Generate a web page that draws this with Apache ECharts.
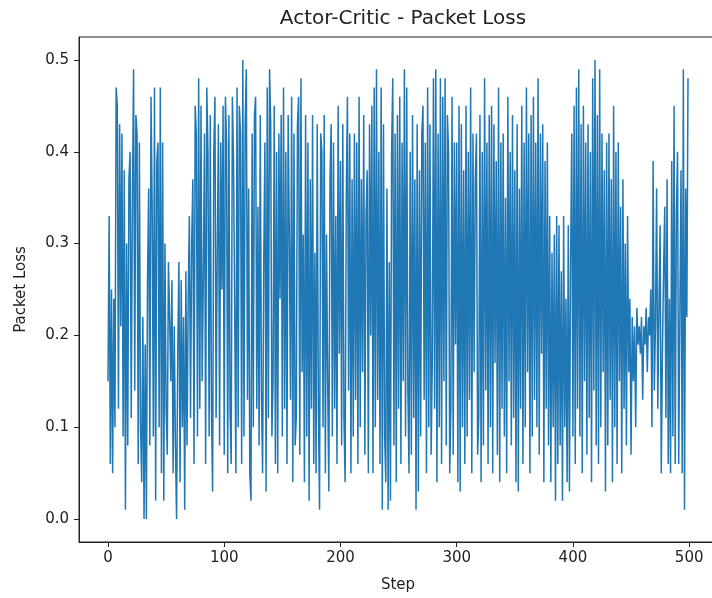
<!DOCTYPE html>
<html>
<head>
<meta charset="utf-8">
<title>Actor-Critic - Packet Loss</title>
<script src="https://cdn.jsdelivr.net/npm/echarts@6/dist/echarts.min.js"></script>
<style>
  html, body { margin: 0; padding: 0; background: #fff; overflow: hidden; }
  #chart { width: 712px; height: 598px; }
</style>
</head>
<body>
<div id="chart"></div>
<script>
// Packet loss recorded at each training step of the actor-critic agent
const packetLoss = [
  0.15,0.33,0.06,0.25,0.05,0.24,0.10,0.47,0.45,0.12,0.43,0.21,0.42,0.09,0.38,0.01,0.30,0.08,0.37,0.40,
  0.11,0.35,0.49,0.14,0.44,0.42,0.06,0.41,0.10,0.04,0.22,0.00,0.19,0.00,0.26,0.36,0.08,0.46,0.34,0.09,
  0.47,0.02,0.39,0.41,0.10,0.47,0.05,0.41,0.02,0.30,0.12,0.07,0.28,0.22,0.15,0.26,0.05,0.21,0.08,0.00,
  0.18,0.28,0.04,0.26,0.10,0.22,0.01,0.27,0.08,0.24,0.33,0.11,0.30,0.37,0.06,0.45,0.42,0.09,0.48,0.12,
  0.45,0.15,0.26,0.42,0.06,0.47,0.40,0.09,0.44,0.12,0.03,0.40,0.46,0.11,0.29,0.43,0.08,0.41,0.25,0.45,
  0.07,0.46,0.41,0.05,0.44,0.12,0.06,0.46,0.39,0.23,0.05,0.47,0.10,0.45,0.42,0.06,0.50,0.09,0.43,0.49,
  0.13,0.36,0.05,0.02,0.42,0.10,0.44,0.46,0.12,0.34,0.08,0.44,0.14,0.05,0.28,0.41,0.03,0.47,0.11,0.49,
  0.43,0.09,0.15,0.45,0.06,0.40,0.05,0.42,0.24,0.44,0.09,0.47,0.12,0.40,0.06,0.44,0.31,0.13,0.46,0.04,
  0.42,0.08,0.11,0.43,0.46,0.07,0.48,0.16,0.31,0.04,0.44,0.09,0.41,0.02,0.37,0.12,0.44,0.06,0.29,0.05,
  0.43,0.12,0.01,0.42,0.40,0.10,0.44,0.05,0.31,0.15,0.03,0.37,0.43,0.09,0.41,0.12,0.33,0.06,0.45,0.18,
  0.39,0.08,0.43,0.11,0.04,0.35,0.46,0.14,0.42,0.05,0.37,0.09,0.42,0.13,0.41,0.06,0.46,0.10,0.37,0.16,
  0.44,0.07,0.33,0.38,0.05,0.43,0.20,0.45,0.05,0.47,0.10,0.49,0.13,0.40,0.06,0.47,0.01,0.43,0.09,0.04,
  0.36,0.01,0.28,0.02,0.40,0.48,0.08,0.42,0.04,0.44,0.12,0.46,0.06,0.41,0.15,0.49,0.09,0.47,0.14,0.05,
  0.40,0.07,0.44,0.11,0.37,0.01,0.43,0.03,0.38,0.09,0.42,0.45,0.13,0.41,0.05,0.47,0.10,0.43,0.07,0.17,
  0.48,0.12,0.49,0.04,0.42,0.10,0.48,0.06,0.46,0.15,0.48,0.08,0.44,0.40,0.05,0.12,0.46,0.07,0.41,0.19,
  0.41,0.04,0.45,0.03,0.43,0.10,0.38,0.06,0.45,0.09,0.40,0.13,0.47,0.05,0.42,0.16,0.37,0.42,0.07,0.11,
  0.44,0.04,0.40,0.08,0.48,0.14,0.41,0.06,0.44,0.10,0.45,0.05,0.43,0.17,0.39,0.07,0.47,0.04,0.41,0.12,
  0.42,0.09,0.35,0.05,0.46,0.15,0.40,0.08,0.44,0.11,0.38,0.04,0.43,0.03,0.36,0.12,0.45,0.06,0.41,0.10,
  0.47,0.16,0.42,0.05,0.44,0.09,0.46,0.13,0.41,0.10,0.48,0.07,0.42,0.18,0.43,0.04,0.39,0.12,0.41,0.08,
  0.33,0.04,0.29,0.10,0.31,0.02,0.33,0.06,0.32,0.08,0.27,0.02,0.33,0.10,0.24,0.04,0.32,0.03,0.28,0.42,
  0.09,0.45,0.06,0.47,0.12,0.49,0.09,0.43,0.05,0.45,0.15,0.41,0.07,0.43,0.11,0.40,0.04,0.48,0.14,0.50,
  0.08,0.44,0.06,0.49,0.10,0.42,0.16,0.38,0.03,0.41,0.08,0.42,0.13,0.37,0.04,0.45,0.10,0.40,0.06,0.41,
  0.15,0.34,0.05,0.37,0.12,0.30,0.08,0.33,0.16,0.24,0.07,0.22,0.15,0.21,0.10,0.23,0.19,0.21,0.18,0.22,
  0.13,0.21,0.19,0.23,0.16,0.22,0.20,0.25,0.10,0.39,0.14,0.21,0.36,0.12,0.23,0.32,0.05,0.18,0.27,0.34,
  0.11,0.37,0.06,0.24,0.05,0.39,0.09,0.45,0.06,0.33,0.40,0.06,0.22,0.38,0.05,0.49,0.01,0.36,0.22,0.48
];

const xTicks = [0, 100, 200, 300, 400, 500];
const yTicks = [0.0, 0.1, 0.2, 0.3, 0.4, 0.5];

const titleText = 'Actor-Critic - Packet Loss';
const xName = 'Step';
const yName = 'Packet Loss';

const seriesData = packetLoss.map((v, i) => [i, v]);
const n = packetLoss.length;
// 5% padding on both ends of the step axis
const xMin = -0.05 * (n - 1);
const xMax = (n - 1) * 1.05;

const font = 'DejaVu Sans';
const ink = '#222';
const chart = echarts.init(document.getElementById('chart'), null, { renderer: 'canvas' });

chart.setOption({
  animation: false,
  backgroundColor: '#ffffff',
  textStyle: { fontFamily: font },
  title: {
    text: titleText,
    left: 398,
    top: 4,
    textAlign: 'center',
    textStyle: { fontFamily: font, fontSize: 20, fontWeight: 'normal', color: ink }
  },
  grid: {
    left: 79,
    right: -5,
    top: 37,
    bottom: 56,
    outerBoundsMode: 'none',
    containLabel: false,
    show: true,
    borderColor: ink,
    borderWidth: 1,
    backgroundColor: 'transparent'
  },
  xAxis: {
    type: 'value',
    min: xMin,
    max: xMax,
    name: xName,
    nameLocation: 'middle',
    nameGap: 36,
    nameTextStyle: { fontFamily: font, fontSize: 15, color: ink },
    axisLine: { show: true, onZero: false, lineStyle: { color: ink, width: 1 } },
    axisTick: { show: true, inside: false, length: 5, customValues: xTicks, lineStyle: { color: ink } },
    axisLabel: { customValues: xTicks, margin: 9, fontSize: 15, color: ink, fontFamily: font,
      formatter: v => String(Math.round(v)) },
    splitLine: { show: false }
  },
  yAxis: {
    type: 'value',
    min: -0.025,
    max: 0.525,
    name: yName,
    nameLocation: 'middle',
    nameGap: 50,
    nameRotate: 90,
    nameTextStyle: { fontFamily: font, fontSize: 15, color: ink },
    axisLine: { show: true, onZero: false, lineStyle: { color: ink, width: 1 } },
    axisTick: { show: true, inside: false, length: 5, customValues: yTicks, lineStyle: { color: ink } },
    axisLabel: { customValues: yTicks, margin: 10, fontSize: 15, color: ink, fontFamily: font,
      formatter: v => v.toFixed(1) },
    splitLine: { show: false }
  },
  series: [{
    type: 'line',
    data: seriesData,
    showSymbol: false,
    symbol: 'none',
    lineStyle: { color: '#1f77b4', width: 1.5 },
    z: 3
  }]
});
</script>
</body>
</html>
